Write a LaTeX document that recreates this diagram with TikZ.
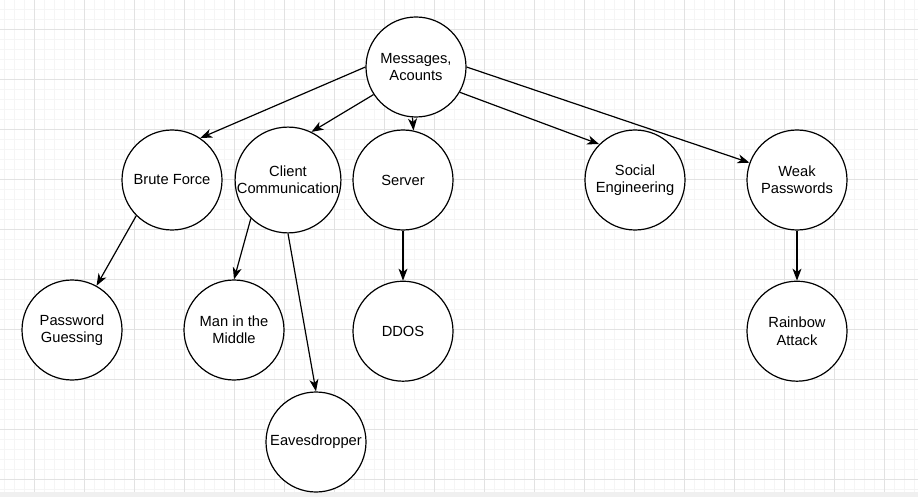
\documentclass[tikz,border=0pt]{standalone}
\usepackage{fontspec}
\setmainfont{Liberation Sans}
\usepackage{tikz}
\usepackage{xcolor}
\usetikzlibrary{shapes,arrows.meta,positioning}
\definecolor{minorcolor}{RGB}{245,245,245}
\definecolor{majorcolor}{RGB}{226,226,226}
\definecolor{barcolor}{RGB}{240,240,240}

\begin{document}
\begin{tikzpicture}[
    x=1pt, y=-1pt,
    topic/.style={circle, draw, line width=1.2pt, minimum size=100pt, inner sep=0pt, align=center, font=\fontsize{14.7}{17.3}\selectfont},
    arrow/.style={-{Stealth[length=12pt, width=9pt, inset=3.5pt]}, line width=1.2pt},
    minorgrid/.style={draw=minorcolor, line width=0.8pt},
    majorgrid/.style={draw=majorcolor, line width=0.8pt}
]
\useasboundingbox (0,0) rectangle (918,497);
\fill[white] (0,0) rectangle (918,497);

% background grid
\foreach \gx in {4,14,...,914} \draw[minorgrid] (\gx,0) -- (\gx,492);
\foreach \gy in {9,19,...,489} \draw[minorgrid] (0,\gy) -- (918,\gy);
\foreach \gx in {34,84,...,884} \draw[majorgrid] (\gx,0) -- (\gx,492);
\foreach \gy in {29,79,...,479} \draw[majorgrid] (0,\gy) -- (918,\gy);
\fill[barcolor] (0,492) rectangle (918,497);

\node[topic, fill=white] (msg) at (416,67) {Messages,\\Acounts};

\node[topic, fill=white] (brute) at (172,180) {Brute Force};
\node[topic, fill=white] (client) at (288,180) {Client\\Communication};
\node[topic, fill=white] (server) at (403,180) {Server};
\node[topic, fill=white] (social) at (635,180) {Social\\Engineering};
\node[topic, fill=white] (weak) at (797,180) {Weak\\Passwords};

\node[topic, fill=white] (guess) at (72,330) {Password\\Guessing};
\node[topic, fill=white] (mitm) at (234,330) {Man in the\\Middle};
\node[topic, fill=white, below=50pt of server] (ddos) {DDOS};
\node[topic, fill=white, below=50pt of weak] (rainbow) {Rainbow\\Attack};
\node[topic, fill=white] (eaves) at (316,442) {Eavesdropper};

\draw[arrow] (msg.west) -- (brute.56);
\draw[arrow] (msg.213) -- (client.64);
\draw[arrow] (msg.266) -- (server.78);
\draw[arrow] (msg.330) -- (social.135);
\draw[arrow] (msg.east) -- (weak.160);

\draw[arrow] (brute.225) -- (guess.61);
\draw[arrow] (client.226) -- (mitm.north);
\draw[arrow] (client.south) -- (eaves.north);
\draw[arrow] (server) -- (ddos);
\draw[arrow] (weak) -- (rainbow);
\end{tikzpicture}
\end{document}
